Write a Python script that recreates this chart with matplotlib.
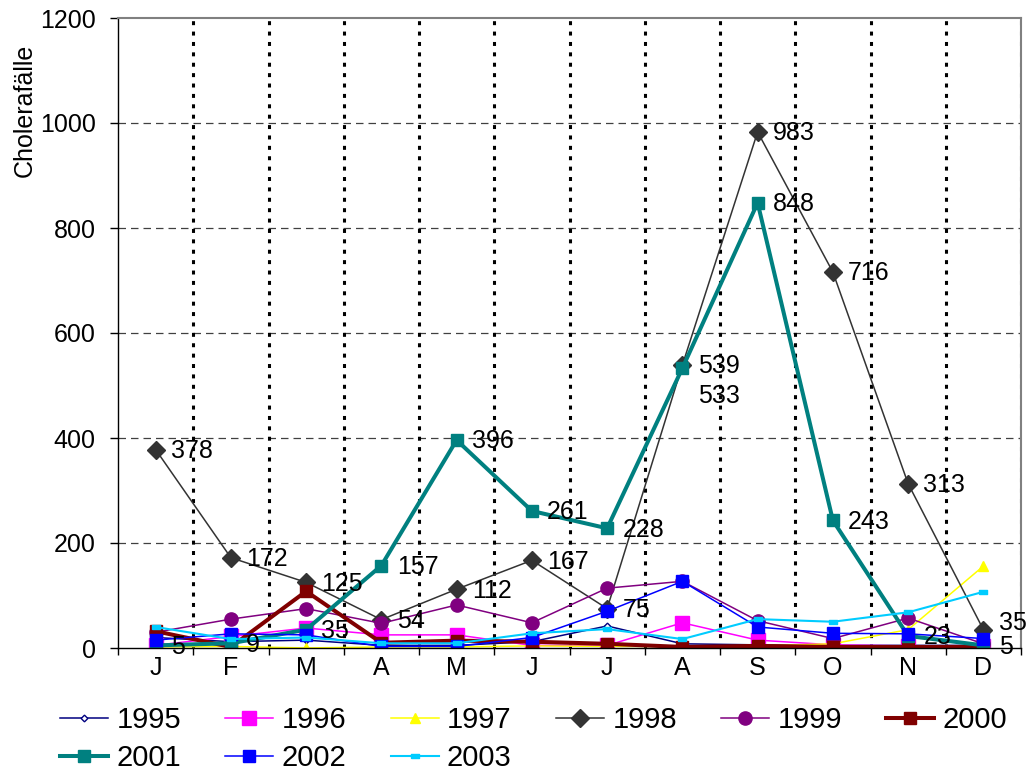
import numpy as np
import matplotlib
matplotlib.use("Agg")
import matplotlib.pyplot as plt

plt.rcParams['font.family'] = ['Liberation Sans', 'DejaVu Sans']

# monthly cholera cases
months = ["J", "F", "M", "A", "M", "J", "J", "A", "S", "O", "N", "D"]
c1995 = [20, 12, 15, 5, 5, 12, 42, 8, 6, 5, 5, 5]
c1996 = [5, 22, 38, 25, 25, 5, 5, 48, 15, 6, 4, 4]
c1997 = [2, 3, 0, 2, 2, 4, 3, 3, 4, 8, 35, 156]
c1998 = [378, 172, 125, 54, 112, 167, 75, 539, 983, 716, 313, 35]
c1999 = [30, 55, 75, 47, 82, 48, 114, 127, 52, 18, 57, 8]
c2000 = [32, 2, 108, 10, 14, 12, 8, 2, 4, 2, 2, 2]
c2001 = [5, 9, 35, 157, 396, 261, 228, 533, 848, 243, 23, 5]
c2002 = [15, 27, 25, 3, 3, 20, 70, 127, 40, 28, 27, 18]
c2003 = [40, 17, 20, 9, 9, 28, 36, 17, 55, 50, 68, 107]

x = np.arange(len(months))

fig = plt.figure(figsize=(10.32, 7.71), dpi=100)
ax = fig.add_axes([118/1032, 1 - 648/771, 903/1032, 630/771])

bar = [(-1, -0.45), (1, -0.45), (1, 0.45), (-1, 0.45), (-1, -0.45)]

series = [
    ("1995", c1995, dict(color="#000080", lw=1.1, marker="D", ms=3.4, mfc="white", mec="#000080", mew=1)),
    ("1996", c1996, dict(color="#FF00FF", lw=1.1, marker="s", ms=9.5, mfc="#FF00FF", mec="#FF00FF")),
    ("1997", c1997, dict(color="#FFFF00", lw=1.1, marker="^", ms=7, mfc="#FFFF00", mec="#FFFF00")),
    ("1998", c1998, dict(color="#333333", lw=1.1, marker="D", ms=8.8, mfc="#333333", mec="#333333")),
    ("1999", c1999, dict(color="#800080", lw=1.1, marker="o", ms=9.5, mfc="#800080", mec="#800080")),
    ("2000", c2000, dict(color="#800000", lw=2.9, marker="s", ms=9.3, mfc="#800000", mec="#800000")),
    ("2001", c2001, dict(color="#008080", lw=2.9, marker="s", ms=9.3, mfc="#008080", mec="#008080")),
    ("2002", c2002, dict(color="#0000FF", lw=1.1, marker="s", ms=9.3, mfc="#0000FF", mec="#0000FF")),
    ("2003", c2003, dict(color="#00CCFF", lw=1.5, marker=bar, ms=5.5, mfc="#00CCFF", mec="#00CCFF")),
]

handles = {}
for name, vals, kw in series:
    ln, = ax.plot(x, vals, label=name, **kw)
    handles[name] = ln

# data labels for 1998 and 2001
label_font = 18
for i, v in enumerate(c1998):
    dy = 5 if i == len(c1998) - 1 else -1
    ax.annotate(str(v), (x[i], v), xytext=(11, dy), textcoords="offset points",
                ha="left", va="center", fontsize=label_font, annotation_clip=False)
for i, v in enumerate(c2001):
    dy = -20 if v == 533 else -1
    ax.annotate(str(v), (x[i], v), xytext=(11, dy), textcoords="offset points",
                ha="left", va="center", fontsize=label_font, annotation_clip=False)

ax.set_xlim(-0.5, 11.5)
ax.set_ylim(0, 1200)
ax.set_yticks(np.arange(0, 1201, 200))
ax.set_xticks(x)
ax.set_xticklabels(months)
ax.set_xticks(np.arange(-0.5, 12, 1), minor=True)
ax.tick_params(axis="x", which="major", length=0, pad=6, labelsize=18)
ax.tick_params(axis="x", which="minor", length=5, width=1, direction="out")
ax.tick_params(axis="y", length=6, width=1, direction="out", pad=10, labelsize=18)

# grid: dashed horizontal, dotted vertical at month boundaries
for yv in range(200, 1200, 200):
    ax.axhline(yv, color="#404040", lw=0.9, linestyle=(0, (6, 4)), zorder=0.5)
for xv in np.arange(0.5, 12, 1):
    ax.axvline(xv, color="black", lw=2.2, linestyle=(0, (1.3, 2.1)), zorder=0.5)

for side in ["top", "right"]:
    ax.spines[side].set_color("#808080")
    ax.spines[side].set_linewidth(1.5)
for side in ["left", "bottom"]:
    ax.spines[side].set_color("black")
    ax.spines[side].set_linewidth(1)

fig.text(25/1032, 1 - 110/771, "Cholerafälle", rotation=90, ha="center", va="center", fontsize=18)

order = ["1995", "2001", "1996", "2002", "1997", "2003", "1998", "1999", "2000"]
fig.legend([handles[n] for n in order], order, ncol=6, loc="upper left",
           bbox_to_anchor=(60/1032, 1 - 706/771), frameon=False, fontsize=21,
           handlelength=1.65, handletextpad=0.28, columnspacing=1.52,
           labelspacing=0.36, borderpad=0, borderaxespad=0)

fig.savefig("out.png", dpi=100)
